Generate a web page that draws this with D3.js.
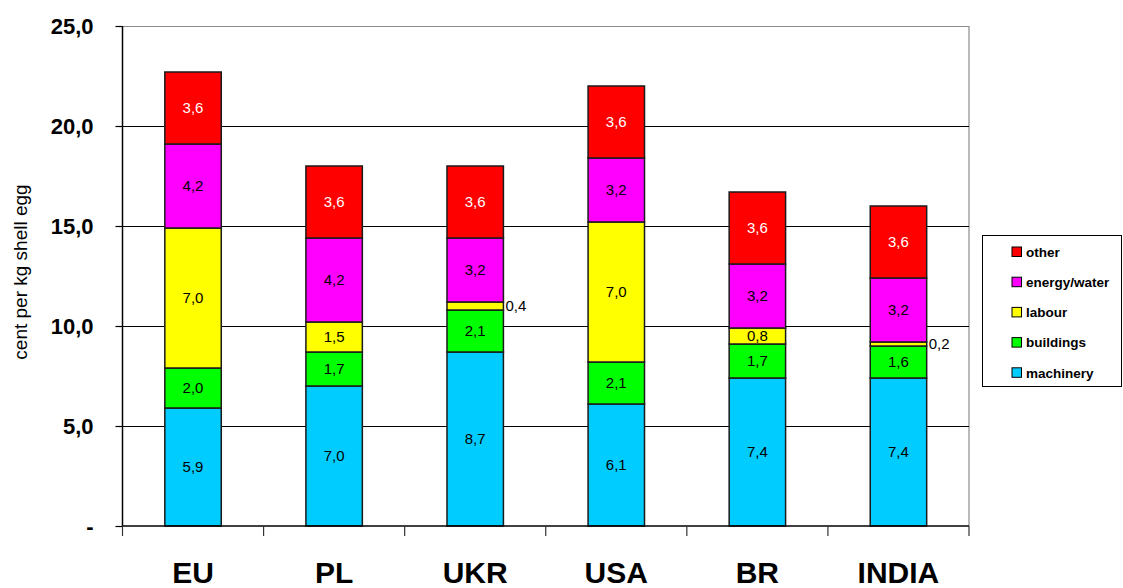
<!DOCTYPE html>
<html>
<head>
<meta charset="utf-8">
<script src="https://cdn.jsdelivr.net/npm/d3@7/dist/d3.min.js"></script>
<style>
  html, body { margin: 0; padding: 0; background: #fff; }
  svg { display: block; font-family: Arial, "Liberation Sans", sans-serif; }
</style>
</head>
<body>
<svg id="chart" width="1123" height="588"></svg>
<script>
// Production cost components per country (cent per kg shell egg)
const countries = ["EU", "PL", "UKR", "USA", "BR", "INDIA"];
const seriesNames = ["machinery", "buildings", "labour", "energy/water", "other"];
const machinery   = [5.9, 7.0, 8.7, 6.1, 7.4, 7.4];
const buildings   = [2.0, 1.7, 2.1, 2.1, 1.7, 1.6];
const labour      = [7.0, 1.5, 0.4, 7.0, 0.8, 0.2];
const energyWater = [4.2, 4.2, 3.2, 3.2, 3.2, 3.2];
const other       = [3.6, 3.6, 3.6, 3.6, 3.6, 3.6];
const yTicks = [0, 5, 10, 15, 20, 25];
const seriesColors = ["#00CCFF", "#00FF00", "#FFFF00", "#FF00FF", "#FF0000"];
const labelColors  = ["#000", "#000", "#000", "#000", "#fff"];

const seriesValues = [machinery, buildings, labour, energyWater, other];
const rows = countries.map((c, i) => {
  const r = { country: c };
  seriesNames.forEach((s, k) => { r[s] = seriesValues[k][i]; });
  return r;
});

const svg = d3.select("#chart");
const plot = { left: 122.5, right: 969, top: 26, bottom: 526 };

const x = d3.scaleBand()
  .domain(countries)
  .range([plot.left, plot.right])
  .paddingInner(0.6)
  .paddingOuter(0.3);

const y = d3.scaleLinear().domain([0, 25]).range([plot.bottom, plot.top]);

const fmt = v => d3.format(".1f")(v).replace(".", ",");

// plot frame (top and right edges in grey)
svg.append("line")
  .attr("x1", plot.left).attr("x2", plot.right)
  .attr("y1", plot.top + 0.5).attr("y2", plot.top + 0.5)
  .attr("stroke", "#8c8c8c").attr("stroke-width", 1);
svg.append("line")
  .attr("x1", plot.right).attr("x2", plot.right)
  .attr("y1", plot.top).attr("y2", plot.bottom)
  .attr("stroke", "#8c8c8c").attr("stroke-width", 1.2);

// horizontal gridlines
svg.append("g")
  .selectAll("line")
  .data(yTicks.filter(t => t > 0 && t < 25))
  .join("line")
  .attr("x1", plot.left).attr("x2", plot.right)
  .attr("y1", d => Math.round(y(d)) + 0.5).attr("y2", d => Math.round(y(d)) + 0.5)
  .attr("stroke", "#000").attr("stroke-width", 1);

// stacked bars
const stack = d3.stack().keys(seriesNames);
const layers = stack(rows);

const layerG = svg.append("g")
  .selectAll("g")
  .data(layers)
  .join("g")
  .attr("fill", (d, i) => seriesColors[i]);

layerG.selectAll("rect")
  .data(d => d)
  .join("rect")
  .attr("x", d => x(d.data.country))
  .attr("width", x.bandwidth())
  .attr("y", d => y(d[1]))
  .attr("height", d => y(d[0]) - y(d[1]))
  .attr("stroke", "#1a1a1a")
  .attr("stroke-width", 1.5);

// value labels (thin segments get their label beside the bar)
layers.forEach((layer, k) => {
  svg.append("g")
    .selectAll("text")
    .data(layer)
    .join("text")
    .attr("x", d => {
      const v = d[1] - d[0];
      return v < 0.5 ? x(d.data.country) + x.bandwidth() + 2 : x(d.data.country) + x.bandwidth() / 2;
    })
    .attr("y", d => (y(d[0]) + y(d[1])) / 2)
    .attr("dy", "0.36em")
    .attr("text-anchor", d => (d[1] - d[0]) < 0.5 ? "start" : "middle")
    .attr("font-size", 15)
    .attr("fill", d => (d[1] - d[0]) < 0.5 ? "#000" : labelColors[k])
    .text(d => fmt(d[1] - d[0]));
});

// y axis
const yAxis = d3.axisLeft(y)
  .tickValues(yTicks)
  .tickSize(7)
  .tickPadding(22)
  .tickFormat(d => d === 0 ? "-" : fmt(d));
const yg = svg.append("g")
  .attr("transform", `translate(${plot.left},0)`)
  .call(yAxis);
yg.select(".domain").attr("stroke", "#000").attr("stroke-width", 1.5)
  .attr("d", `M0,${plot.top}V${plot.bottom}`);
yg.selectAll(".tick line").attr("stroke", "#000").attr("stroke-width", 1.2);
yg.selectAll(".tick text")
  .attr("font-size", 22).attr("font-weight", "bold")
  .attr("font-family", "Arial, 'Liberation Sans', sans-serif")
  .attr("fill", "#000");

// x axis: ticks at category boundaries
const xg = svg.append("g");
xg.append("line")
  .attr("x1", plot.left).attr("x2", plot.right)
  .attr("y1", plot.bottom).attr("y2", plot.bottom)
  .attr("stroke", "#000").attr("stroke-width", 1.5);
const bounds = d3.range(countries.length + 1).map(i => plot.left + i * x.step());
xg.selectAll("line.xt")
  .data(bounds)
  .join("line")
  .attr("class", "xt")
  .attr("x1", d => d).attr("x2", d => d)
  .attr("y1", plot.bottom).attr("y2", plot.bottom + 10)
  .attr("stroke", "#333").attr("stroke-width", 1.2);
xg.selectAll("text")
  .data(countries)
  .join("text")
  .attr("x", d => x(d) + x.bandwidth() / 2)
  .attr("y", 583)
  .attr("text-anchor", "middle")
  .attr("font-size", 30)
  .attr("font-weight", "bold")
  .attr("fill", "#000")
  .text(d => d);

// y axis title
svg.append("text")
  .attr("transform", "translate(27,272) rotate(-90)")
  .attr("text-anchor", "middle")
  .attr("font-size", 19)
  .attr("fill", "#000")
  .text("cent per kg shell egg");

// legend
const legend = svg.append("g");
legend.append("rect")
  .attr("x", 982.5).attr("y", 235.5)
  .attr("width", 139).attr("height", 151)
  .attr("fill", "#fff").attr("stroke", "#000").attr("stroke-width", 1);
const legendItems = seriesNames.map((s, i) => ({ name: s, color: seriesColors[i] })).reverse();
const li = legend.selectAll("g.item")
  .data(legendItems)
  .join("g")
  .attr("class", "item")
  .attr("transform", (d, i) => `translate(1012,${252 + i * 30.2})`);
li.append("rect")
  .attr("x", 0).attr("y", -5)
  .attr("width", 9.5).attr("height", 9.5)
  .attr("fill", d => d.color)
  .attr("stroke", "#000").attr("stroke-width", 1);
li.append("text")
  .attr("x", 14).attr("y", 0)
  .attr("dy", "0.36em")
  .attr("font-size", 13.5)
  .attr("font-weight", "bold")
  .attr("fill", "#000")
  .text(d => d.name);
</script>
</body>
</html>
